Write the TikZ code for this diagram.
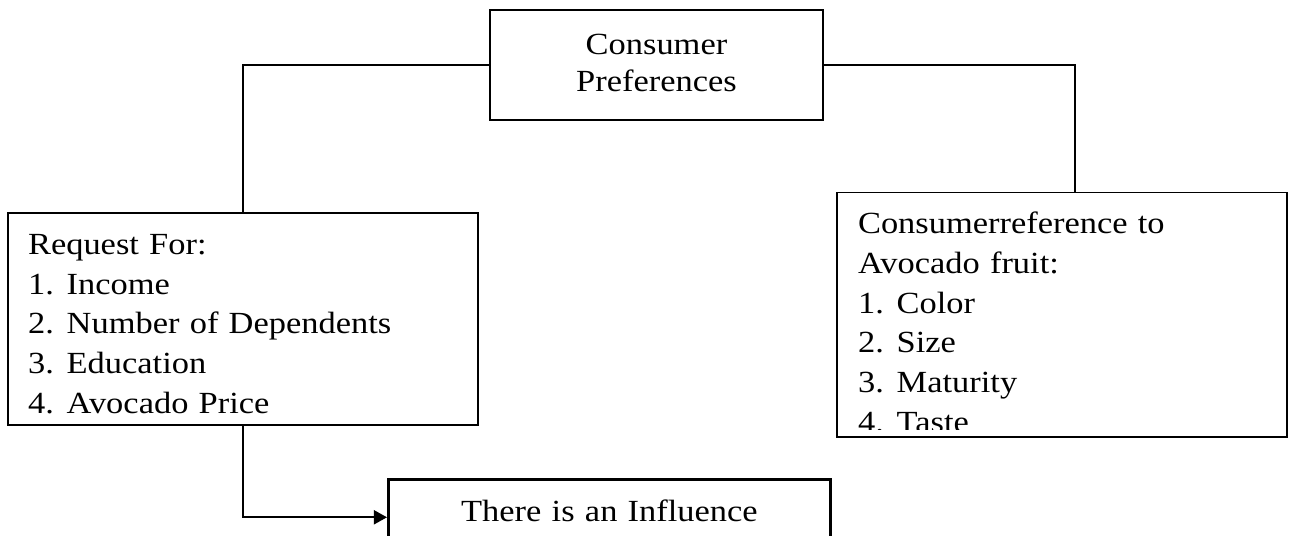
\documentclass[tikz,border=0pt]{standalone}
\usepackage{fontspec}
\setmainfont{Liberation Serif}[FakeStretch=1.12]
\usepackage{tikz}
\usetikzlibrary{arrows.meta, positioning}
\newcommand{\itm}[2]{\makebox[22pt][l]{#1}#2}
\tikzset{
    box/.style={rectangle, draw, line width=1.1pt, align=left, inner sep=0pt, font=\fontsize{17.5}{22.7}\selectfont},
    link/.style={line width=0.75pt},
    flow/.style={-{Triangle[length=7.5pt, width=8pt]}, line width=1.2pt}
}

\begin{document}
\begin{tikzpicture}[x=0.02cm, y=-0.02cm]
    \useasboundingbox (0,0) rectangle (1293,535);
    \clip (0,0) rectangle (1293,535);

    % Boxes
    \node[box, align=center, text width=6.66cm, text height=25.5pt, text depth=36.9pt,
          font=\fontsize{17.5}{21}\selectfont] (pref) at (656.5,65) {Consumer\\Preferences};

    \node[box, text width=8.6cm, inner xsep=0.4cm, text height=23.2pt, text depth=97pt] (request) at (243,319) {%
        Request For:\\
        \itm{1.}{Income}\\
        \itm{2.}{Number of Dependents}\\
        \itm{3.}{Education}\\
        \itm{4.}{Avocado Price}%
    };

    \node[box, text width=8.16cm, inner xsep=0.42cm, text height=23.2pt, text depth=115.7pt] (fruit) at (1062,314.5) {%
        Consumerreference to\\
        Avocado fruit:\\
        \itm{1.}{Color}\\
        \itm{2.}{Size}\\
        \itm{3.}{Maturity}\\
        \itm{4.}{Taste}%
    };
    % last line is cut by the box bottom
    \fill[white] ([shift={(1pt,0.6pt)}]fruit.south west) rectangle ([shift={(-1pt,4pt)}]fruit.south east);

    \node[box, align=center, anchor=north west, line width=1.7pt, text width=8.84cm,
          inner ysep=12pt, text height=11.8pt, text depth=60pt] (influence) at (387,478) {There is an Influence};

    % Connections
    \draw[link] (pref.west) -| (request.north);
    \draw[link] (pref.east) -| ([xshift=7.4pt]fruit.north);
    \draw[flow] (request.south) |- (influence.mid west);

\end{tikzpicture}
\end{document}
